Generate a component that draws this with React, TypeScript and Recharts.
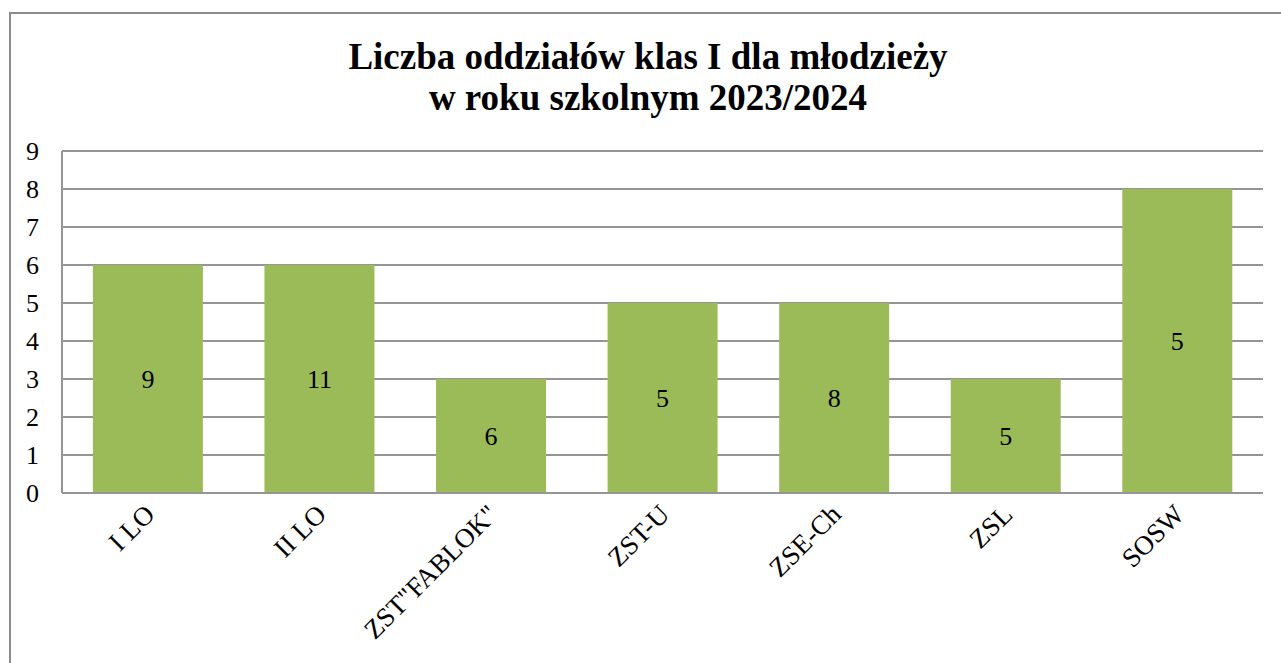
import React from 'react';
import { BarChart, Bar, XAxis, YAxis, CartesianGrid, LabelList } from 'recharts';

const categories = ['I LO', 'II LO', 'ZST"FABLOK"', 'ZST-U', 'ZSE-Ch', 'ZSL', 'SOSW'];
const barValues = [6, 6, 3, 5, 5, 3, 8];
const barLabels = [9, 11, 6, 5, 8, 5, 5];
const yTicks = [0, 1, 2, 3, 4, 5, 6, 7, 8, 9];

const data = categories.map((c, i) => ({ name: c, value: barValues[i], label: barLabels[i] }));

const FONT = '"Liberation Serif", "Times New Roman", serif';

const XTick = (props: any) => {
  const { x, y, payload } = props;
  return (
    <g transform={`translate(${x},${y})`}>
      <text
        x={0}
        y={0}
        dx={-6}
        dy={18}
        textAnchor="end"
        transform="rotate(-45)"
        fontFamily={FONT}
        fontSize={27}
        fill="#000"
      >
        {payload.value}
      </text>
    </g>
  );
};

export default function App() {
  return (
    <div style={{ position: 'absolute', left: 0, top: 0, width: 1281, height: 663, background: '#fff', overflow: 'hidden' }}>
      <div
        style={{
          position: 'absolute',
          left: 9,
          top: 12,
          width: 1281,
          height: 663,
          borderLeft: '2px solid #8c8c8c',
          borderTop: '2px solid #8c8c8c',
          boxSizing: 'border-box',
        }}
      />
      <div
        style={{
          position: 'absolute',
          left: 0,
          top: 36,
          width: 1296,
          textAlign: 'center',
          fontFamily: FONT,
          fontWeight: 'bold',
          fontSize: 37,
          lineHeight: '41px',
          color: '#000',
        }}
      >
        Liczba oddziałów klas I dla młodzieży
        <br />
        w roku szkolnym 2023/2024
      </div>
      <div style={{ position: 'absolute', left: 0, top: 0 }}>
        <BarChart
          width={1281}
          height={663}
          data={data}
          margin={{ top: 151, right: 18, bottom: 0, left: 22 }}
          barCategoryGap="18%"
        >
          <CartesianGrid vertical={false} stroke="#959595" strokeWidth={2} />
          <XAxis
            dataKey="name"
            interval={0}
            tickLine={false}
            axisLine={{ stroke: '#959595', strokeWidth: 2 }}
            tick={<XTick />}
            tickSize={0}
            tickMargin={6}
            height={170}
          />
          <YAxis
            width={40}
            domain={[0, 9]}
            ticks={yTicks}
            interval={0}
            tickLine={false}
            axisLine={{ stroke: '#959595', strokeWidth: 2 }}
            tickSize={0}
            tickMargin={23}
            tick={{ fontFamily: FONT, fontSize: 26, fill: '#000' }}
          />
          <Bar dataKey="value" fill="#9bbb59" isAnimationActive={false}>
            <LabelList dataKey="label" position="center" fontFamily={FONT} fontSize={26} fill="#000" />
          </Bar>
        </BarChart>
      </div>
    </div>
  );
}
